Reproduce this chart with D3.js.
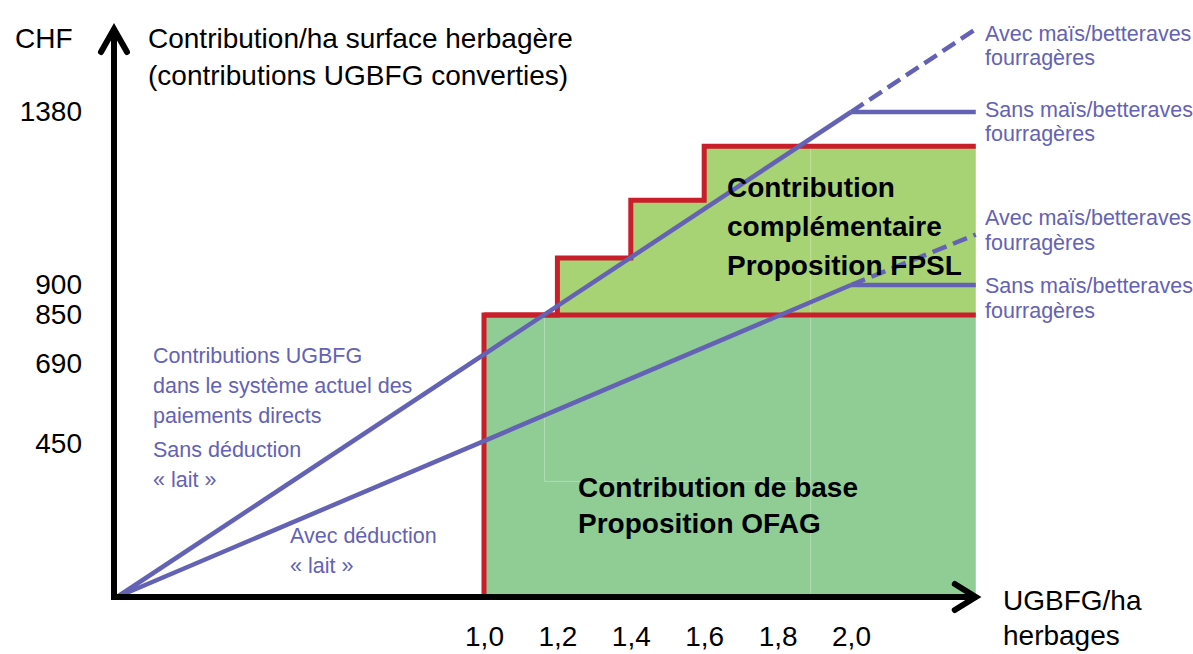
<!DOCTYPE html>
<html>
<head>
<meta charset="utf-8">
<script src="https://cdn.jsdelivr.net/npm/d3@7"></script>
<style>
  body { margin: 0; background: #fff; }
  svg text { font-family: "Liberation Sans", Arial, sans-serif; }
</style>
</head>
<body>
<div id="d3-container"></div>
<script>
/* CONSTANTS AND GLOBALS */
const width = 1193,
  height = 654;

const blue = "#6462b4",
  red = "#c81f2a",
  greenBase = "#90cd95",
  greenComp = "#a8d374";

/* DATA */
// y tick labels (CHF) and x tick labels (UGBFG/ha)
const yTicks = [450, 690, 850, 900, 1380];
const xTicks = [1.0, 1.2, 1.4, 1.6, 1.8, 2.0];
const xMax = 2.34;

// contributions UGBFG, current system
const sansDeduction = [[0, 0], [2.0, 1380]];
const avecDeduction = [[0, 0], [2.0, 900]];
// extensions after 2,0 (with / without maize & beet)
const sansDedAvecMais = [[2.0, 1380], [xMax, 1610]];
const sansDedSansMais = [[2.0, 1380], [xMax, 1380]];
const avecDedAvecMais = [[2.0, 900], [xMax, 1040]];
const avecDedSansMais = [[2.0, 900], [xMax, 900]];

// base contribution (OFAG) and complementary contribution steps (FPSL)
const baseStart = 1.0;
const baseValue = 850;
const stepX = [1.2, 1.4, 1.6, xMax];
const stepValue = [975, 1135, 1285, 1285];

/* SCALES */
const xScale = d3.scaleLinear().domain([0, 2]).range([117, 851]);
// the drawing is schematic, so the y scale is piecewise
const yScale = d3.scaleLinear()
  .domain([0, 450, 690, 850, 900, 1380])
  .range([597, 444, 364, 315, 285, 112]);

const svg = d3.select("#d3-container")
  .append("svg")
  .attr("width", width)
  .attr("height", height);

/* AREAS */
svg.append("rect")
  .attr("x", xScale(baseStart))
  .attr("y", yScale(baseValue))
  .attr("width", xScale(xMax) - xScale(baseStart))
  .attr("height", yScale(0) - yScale(baseValue))
  .attr("fill", greenBase);

const steps = stepX.map((x, i) => [x, stepValue[i]]);

const compArea = d3.area()
  .x(d => xScale(d[0]))
  .y0(yScale(baseValue))
  .y1(d => yScale(d[1]))
  .curve(d3.curveStepAfter);

svg.append("path")
  .datum(steps)
  .attr("d", compArea)
  .attr("fill", greenComp);

// faint cell borders seen in the source picture
const faint = [
  [[1.165, 850], [1.165, 340]],
  [[1.165, 340], [1.89, 340]],
  [[1.89, 1285], [1.89, 5]]
];
const lineGen = d3.line().x(d => xScale(d[0])).y(d => yScale(d[1]));
svg.selectAll(".faint")
  .data(faint)
  .join("path")
  .attr("class", "faint")
  .attr("d", lineGen)
  .attr("stroke", "rgba(255,255,255,0.3)")
  .attr("stroke-width", 1)
  .attr("fill", "none");

/* RED OUTLINES */
const stepLine = d3.line()
  .x(d => xScale(d[0]))
  .y(d => yScale(d[1]))
  .curve(d3.curveStepAfter);

svg.append("path")
  .datum([[baseStart, 0], [baseStart, baseValue], ...steps])
  .attr("d", stepLine)
  .attr("fill", "none")
  .attr("stroke", red)
  .attr("stroke-width", 5);

svg.append("path")
  .datum([[baseStart, baseValue], [xMax, baseValue]])
  .attr("d", lineGen)
  .attr("fill", "none")
  .attr("stroke", red)
  .attr("stroke-width", 5);

/* BLUE LINES */
const blueLines = [
  { pts: sansDeduction, dash: null },
  { pts: avecDeduction, dash: null },
  { pts: sansDedAvecMais, dash: "15,7" },
  { pts: sansDedSansMais, dash: null },
  { pts: avecDedAvecMais, dash: "15,7" },
  { pts: avecDedSansMais, dash: null }
];

svg.selectAll(".blue-line")
  .data(blueLines)
  .join("path")
  .attr("class", "blue-line")
  .attr("d", d => lineGen(d.pts))
  .attr("fill", "none")
  .attr("stroke", blue)
  .attr("stroke-width", 4.5)
  .attr("stroke-dasharray", d => d.dash);

/* AXES */
const xAxis = d3.axisBottom(xScale)
  .tickValues(xTicks)
  .tickSize(0)
  .tickPadding(29)
  .tickFormat(d => d3.format(".1f")(d).replace(".", ","));

const yAxis = d3.axisLeft(yScale)
  .tickValues(yTicks)
  .tickSize(0)
  .tickPadding(32)
  .tickFormat(d3.format("d"));

const gx = svg.append("g")
  .attr("transform", `translate(0,${yScale(0)})`)
  .call(xAxis);
const gy = svg.append("g")
  .attr("transform", `translate(114,0)`)
  .call(yAxis);

[gx, gy].forEach(g => {
  g.select(".domain").remove();
  g.selectAll("text")
    .attr("font-family", "Liberation Sans, Arial, sans-serif")
    .attr("font-size", 28)
    .attr("fill", "#000");
});

// black axis lines with arrow heads
const x0 = 114, y0 = yScale(0), xEnd = xScale(xMax);
svg.append("line")
  .attr("x1", x0).attr("y1", y0 + 3)
  .attr("x2", x0).attr("y2", 30)
  .attr("stroke", "#000").attr("stroke-width", 6);
svg.append("path")
  .attr("d", `M${x0 - 13},52 L${x0},29 L${x0 + 13},52`)
  .attr("fill", "none").attr("stroke", "#000")
  .attr("stroke-width", 6).attr("stroke-linecap", "round");

svg.append("line")
  .attr("x1", x0 - 3).attr("y1", y0)
  .attr("x2", xEnd - 2).attr("y2", y0)
  .attr("stroke", "#000").attr("stroke-width", 6);
svg.append("path")
  .attr("d", `M${xEnd - 21},${y0 - 13} L${xEnd},${y0} L${xEnd - 21},${y0 + 13}`)
  .attr("fill", "none").attr("stroke", "#000")
  .attr("stroke-width", 6).attr("stroke-linecap", "round");

/* TEXTS */
const texts = [
  // axis titles
  { t: "CHF", x: 15, y: 48, size: 28, fill: "#000" },
  { t: "Contribution/ha surface herbagère", x: 148, y: 48, size: 28, fill: "#000" },
  { t: "(contributions UGBFG converties)", x: 148, y: 85, size: 28, fill: "#000" },
  { t: "UGBFG/ha", x: 1003, y: 610, size: 28, fill: "#000" },
  { t: "herbages", x: 1003, y: 645, size: 28, fill: "#000" },
  // right-hand legend
  { t: "Avec maïs/betteraves", x: 985, y: 41, size: 21.5, fill: blue },
  { t: "fourragères", x: 985, y: 65, size: 21.5, fill: blue },
  { t: "Sans maïs/betteraves", x: 985, y: 117, size: 21.5, fill: blue },
  { t: "fourragères", x: 985, y: 141, size: 21.5, fill: blue },
  { t: "Avec maïs/betteraves", x: 985, y: 225, size: 21.5, fill: blue },
  { t: "fourragères", x: 985, y: 250, size: 21.5, fill: blue },
  { t: "Sans maïs/betteraves", x: 985, y: 293, size: 21.5, fill: blue },
  { t: "fourragères", x: 985, y: 318, size: 21.5, fill: blue },
  // line notes
  { t: "Contributions UGBFG", x: 153, y: 363, size: 21.5, fill: blue },
  { t: "dans le système actuel des", x: 153, y: 393, size: 21.5, fill: blue },
  { t: "paiements directs", x: 153, y: 423, size: 21.5, fill: blue },
  { t: "Sans déduction", x: 153, y: 457, size: 21.5, fill: blue },
  { t: "« lait »", x: 153, y: 487, size: 21.5, fill: blue },
  { t: "Avec déduction", x: 290, y: 543, size: 21.5, fill: blue },
  { t: "« lait »", x: 290, y: 573, size: 21.5, fill: blue },
  // area labels
  { t: "Contribution", x: 727, y: 197, size: 28, fill: "#000", bold: true },
  { t: "complémentaire", x: 727, y: 236, size: 28, fill: "#000", bold: true },
  { t: "Proposition FPSL", x: 727, y: 275, size: 28, fill: "#000", bold: true },
  { t: "Contribution de base", x: 578, y: 497, size: 28, fill: "#000", bold: true },
  { t: "Proposition OFAG", x: 578, y: 533, size: 28, fill: "#000", bold: true }
];

svg.selectAll(".label")
  .data(texts)
  .join("text")
  .attr("class", "label")
  .attr("x", d => d.x)
  .attr("y", d => d.y)
  .attr("font-size", d => d.size)
  .attr("font-weight", d => d.bold ? "bold" : "normal")
  .attr("fill", d => d.fill)
  .text(d => d.t);
</script>
</body>
</html>
